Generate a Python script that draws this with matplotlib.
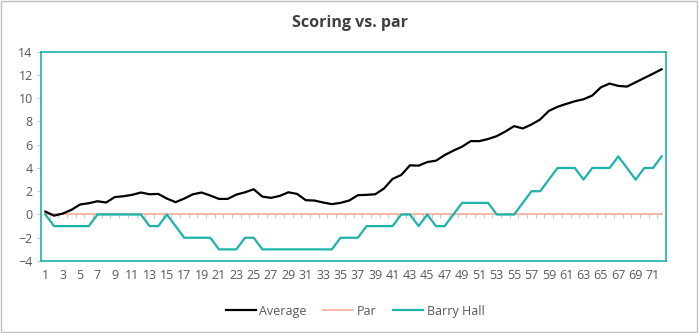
import numpy as np
import matplotlib
matplotlib.use('Agg')
import matplotlib.pyplot as plt
from matplotlib.patches import Rectangle

# ── data ──────────────────────────────────────────────────────────────────────
rounds = np.arange(1, 73)
average = [0.25, -0.1, 0.08, 0.4, 0.86, 0.97, 1.14, 1.03, 1.5, 1.57,
           1.69, 1.89, 1.74, 1.77, 1.37, 1.06, 1.37, 1.74, 1.89, 1.63,
           1.34, 1.34, 1.71, 1.91, 2.17, 1.54, 1.43, 1.6, 1.91, 1.77,
           1.23, 1.2, 1.03, 0.89, 1.0, 1.2, 1.66, 1.69, 1.74, 2.23,
           3.06, 3.4, 4.23, 4.2, 4.51, 4.63, 5.11, 5.49, 5.83, 6.31,
           6.31, 6.49, 6.74, 7.14, 7.6, 7.4, 7.74, 8.17, 8.91, 9.26,
           9.51, 9.74, 9.91, 10.23, 10.94, 11.26, 11.06, 11.0, 11.37, 11.74,
           12.11, 12.49]
par = [0] * 72
barry_hall = [0, -1, -1, -1, -1, -1, 0, 0, 0, 0,
              0, 0, -1, -1, 0, -1, -2, -2, -2, -2,
              -3, -3, -3, -2, -2, -3, -3, -3, -3, -3,
              -3, -3, -3, -3, -2, -2, -2, -1, -1, -1,
              -1, 0, 0, -1, 0, -1, -1, 0, 1, 1,
              1, 1, 0, 0, 0, 1, 2, 2, 3, 4,
              4, 4, 3, 4, 4, 4, 5, 4, 3, 4,
              4, 5]
y_ticks = list(range(-4, 15, 2))

TEAL = '#1DB2AC'
SALMON = '#F4B3A2'
GRAY = '#595959'

plt.rcParams['font.family'] = ['Open Sans', 'DejaVu Sans']

fig = plt.figure(figsize=(6.99, 3.33), dpi=100)
ax = fig.add_axes([0.0587, 0.2162, 0.8941, 0.6285])

ax.plot(rounds, average, color='black', lw=1.6, label='Average', zorder=4)
ax.plot(rounds, par, color=SALMON, lw=1.3, label='Par', zorder=2)
ax.plot(rounds, barry_hall, color=TEAL, lw=1.6, label='Barry Hall', zorder=3)

# category tick marks sit on the zero line, like Excel's crossing axis
ax.vlines(np.arange(0.5, 73.0, 1.0), 0, -0.3, color='#C8C8C8', lw=0.8, zorder=1)

ax.set_xlim(0.5, 72.5)
ax.set_ylim(-4, 14)
ax.set_xticks(rounds[::2])
ax.set_xticklabels([str(r) for r in rounds[::2]])
ax.set_yticks(y_ticks)
ax.tick_params(axis='x', length=0, pad=6, labelsize=9, colors=GRAY)
ax.tick_params(axis='y', length=3, width=0.8, color='#C8C8C8', pad=3,
               labelsize=9, labelcolor=GRAY)
for s in ax.spines.values():
    s.set_color(TEAL)
    s.set_linewidth(1.2)

fig.text(0.5, 0.93, 'Scoring vs. par', ha='center', va='center',
         fontsize=11.5, fontweight='bold', color='#404040')

ax.legend(loc='center', bbox_to_anchor=(0.508, 0.066), bbox_transform=fig.transFigure,
          ncol=3, frameon=False, fontsize=9, labelcolor=GRAY,
          handlelength=2.4, handletextpad=0.3, columnspacing=1.3)

fig.patches.append(Rectangle((0.0015, 0.004), 0.996, 0.992, transform=fig.transFigure,
                             fill=False, edgecolor='#BFBFBF', lw=1.0))

fig.savefig('out.png', dpi=100, facecolor='white')
